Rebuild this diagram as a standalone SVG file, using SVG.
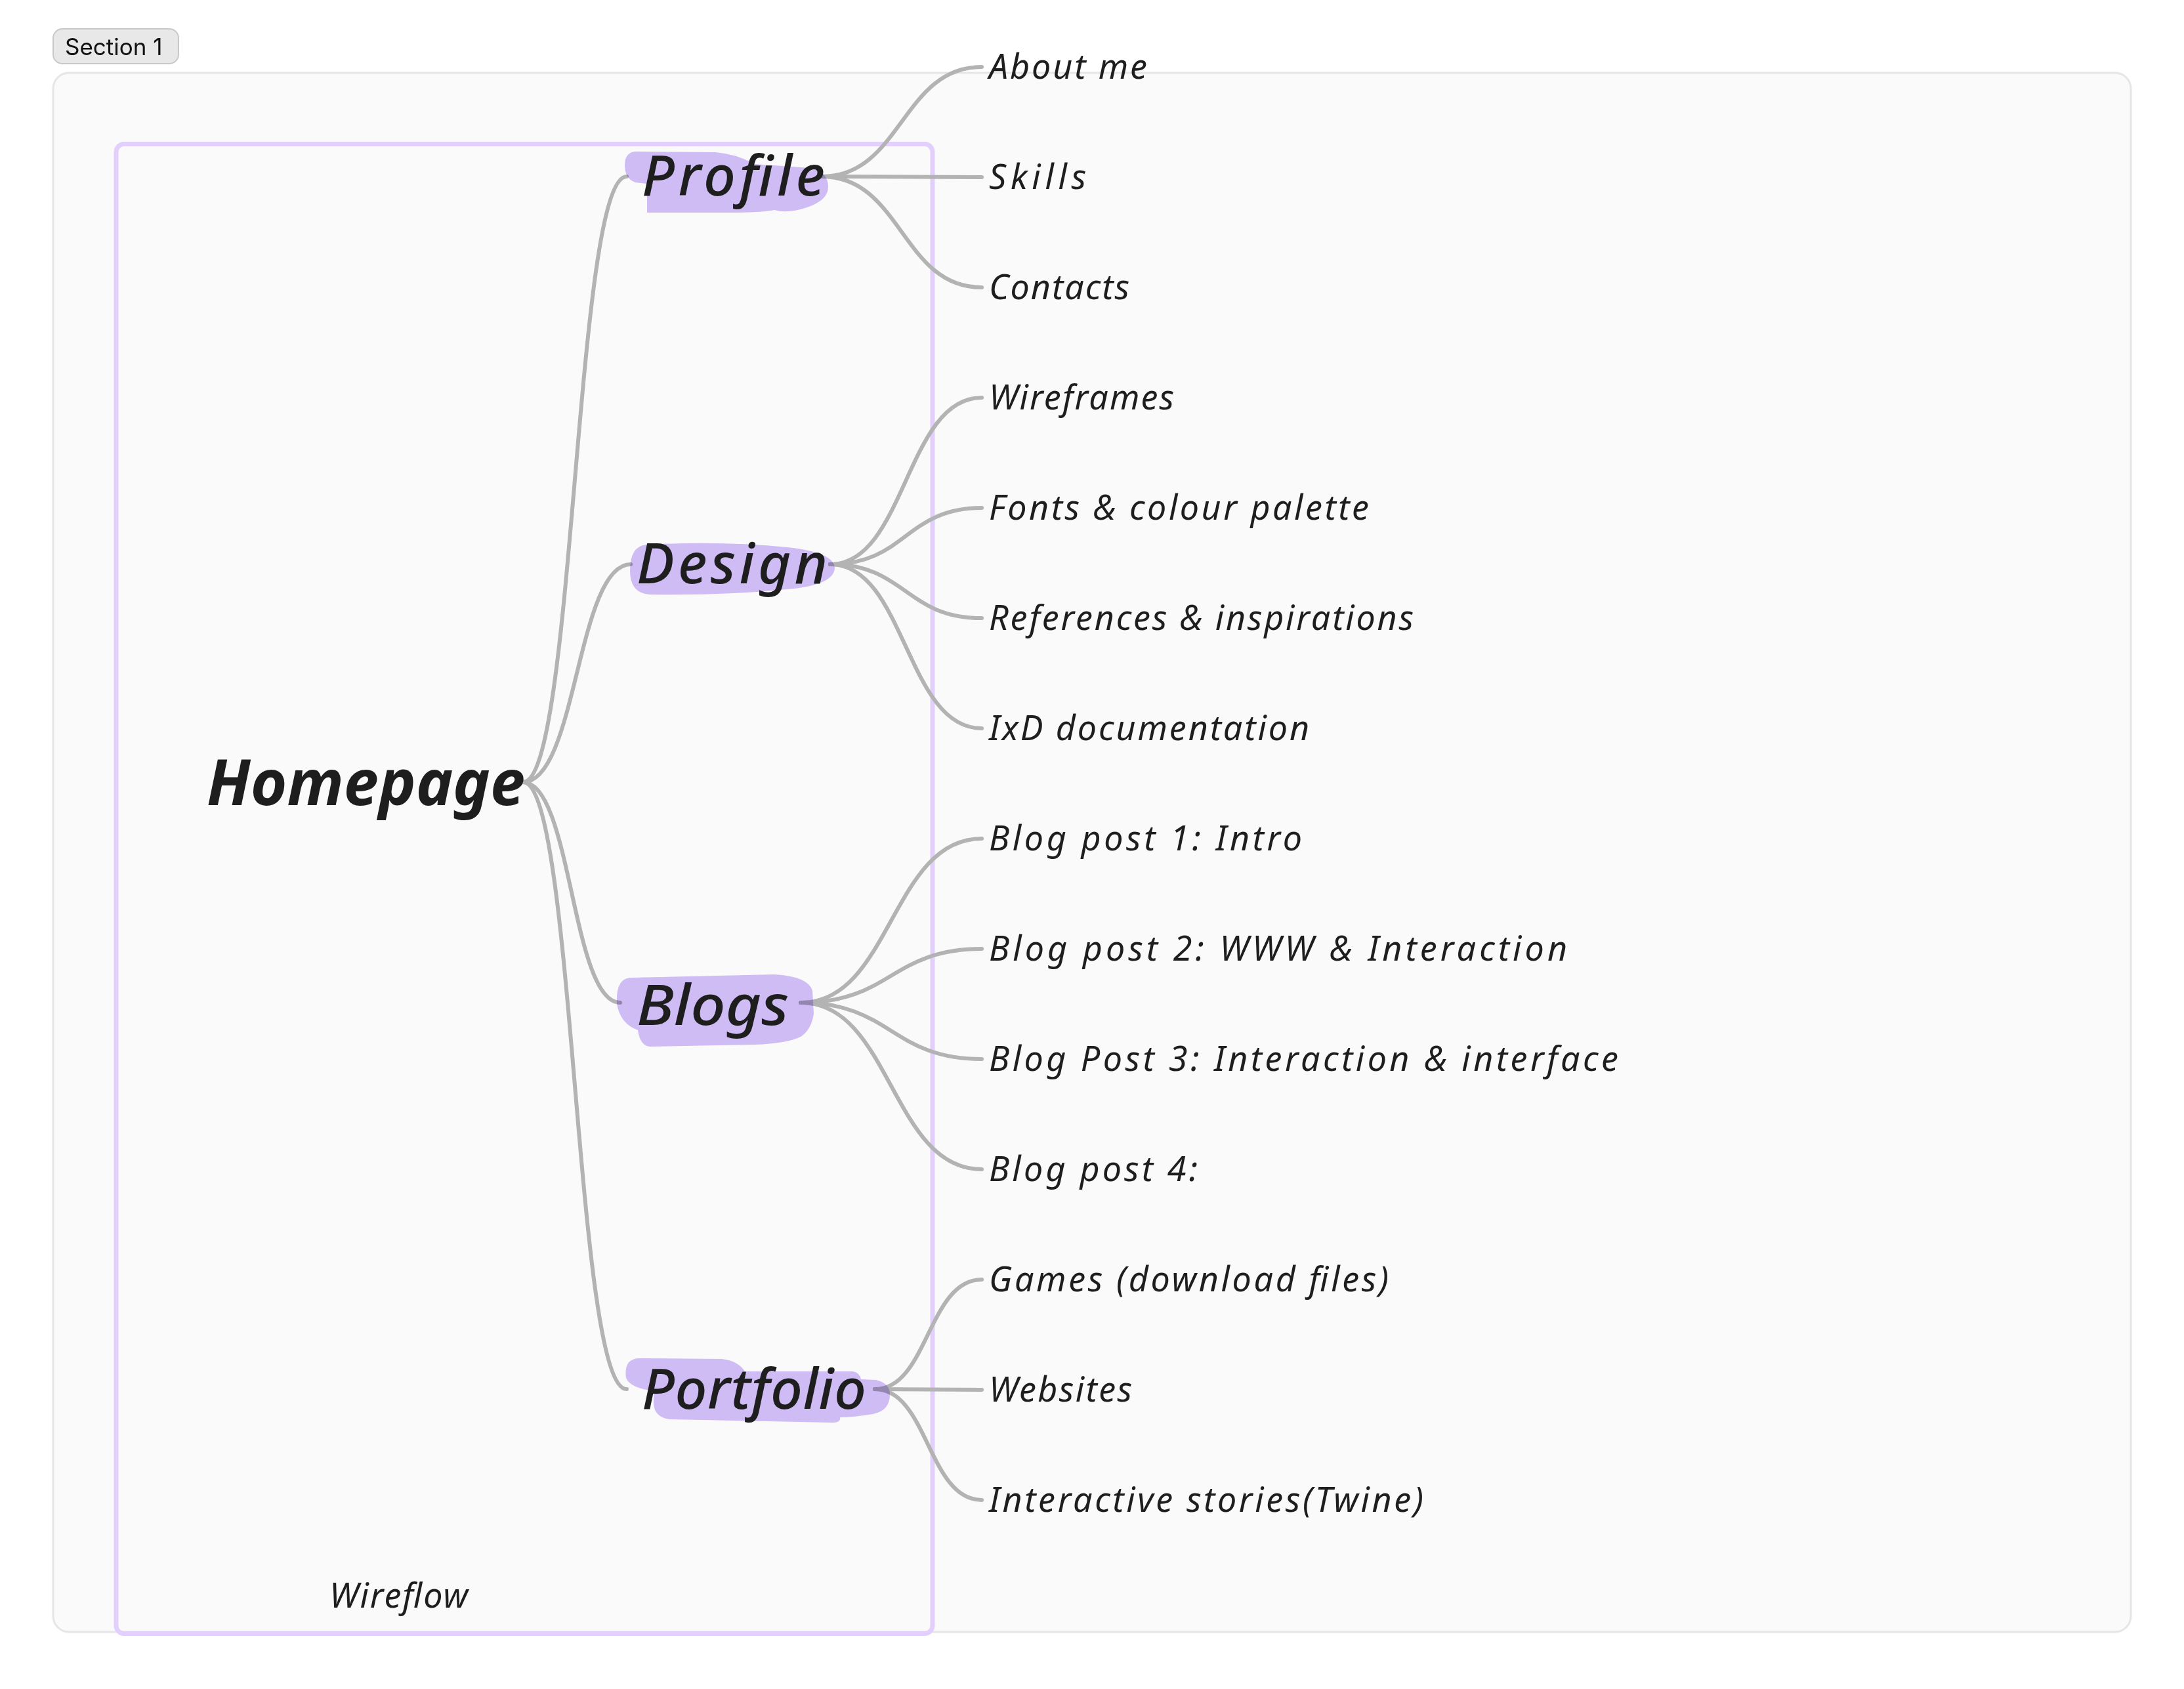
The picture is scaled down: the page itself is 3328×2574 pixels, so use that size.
<svg xmlns="http://www.w3.org/2000/svg" width="3328" height="2574" viewBox="0 0 3328 2574">
<defs>
<style>
.bg{fill:#ffffff}
.container{fill:#fafafa;stroke:#e6e6e6;stroke-width:3}
.seclabel{fill:#e8e8e8;stroke:#c8c8c8;stroke-width:2}
.seclabeltext{font-family:"Inter","Liberation Sans",sans-serif;font-size:35px;fill:#111111}
.frame{fill:none;stroke:#e3cffc;stroke-width:7}
.conn{fill:none;stroke:#b3b3b3;stroke-width:6;stroke-linecap:round}
.hl{fill:#d3c0fa;mix-blend-mode:multiply}
.hand{font-family:"Noto Sans","DejaVu Sans",sans-serif;font-style:italic;fill:#1e1e1e}
.child{font-size:52px}
.sect{font-size:86px;font-weight:500}
.root{font-size:96px;font-weight:700}
</style>
</defs>
<rect class="bg" x="0" y="0" width="3328" height="2574"/>

<g id="section-1">
<rect class="container" x="81" y="111" width="3166" height="2376" rx="24"/>
<rect class="seclabel" x="81" y="44" width="191" height="53" rx="14"/>
<text class="seclabeltext" x="99" y="84">Section 1</text>
</g>

<g id="wireflow-frame">
<rect class="frame" x="177" y="219.5" width="1244" height="2270" rx="12"/>
<text class="hand child" x="502" y="2450" textLength="211" lengthAdjust="spacing">Wireflow</text>
</g>

<g id="connectors">
<path class="conn" d="M797 1192 C876 1192 876 269 955 269"/>
<path class="conn" d="M797 1192 C879 1192 879 860 961 860"/>
<path class="conn" d="M797 1192 C871 1192 871 1528 945 1528"/>
<path class="conn" d="M797 1192 C876 1192 876 2117 955 2117"/>

<path class="conn" d="M1252 269 C1374 269 1374 102 1496 102"/>
<path class="conn" d="M1252 269 L1496 270"/>
<path class="conn" d="M1252 269 C1374 269 1374 438 1496 438"/>

<path class="conn" d="M1265 860 C1380 860 1380 606 1496 606"/>
<path class="conn" d="M1265 860 C1380 860 1380 774 1496 774"/>
<path class="conn" d="M1265 860 C1380 860 1380 942 1496 942"/>
<path class="conn" d="M1265 860 C1380 860 1380 1110 1496 1110"/>

<path class="conn" d="M1220 1528 C1358 1528 1358 1278 1496 1278"/>
<path class="conn" d="M1220 1528 C1358 1528 1358 1446 1496 1446"/>
<path class="conn" d="M1220 1528 C1358 1528 1358 1614 1496 1614"/>
<path class="conn" d="M1220 1528 C1358 1528 1358 1782 1496 1782"/>

<path class="conn" d="M1333 2117 C1414 2117 1414 1950 1496 1950"/>
<path class="conn" d="M1333 2117 L1496 2118"/>
<path class="conn" d="M1333 2117 C1414 2117 1414 2286 1496 2286"/>
</g>

<g id="homepage">
<text class="hand root" x="315" y="1227" textLength="485" lengthAdjust="spacingAndGlyphs">Homepage</text>
</g>

<g id="profile">
<path class="hl" d="M970 231 L1090 232 Q1120 234 1150 250 L1235 256 Q1262 262 1262 285 Q1262 305 1230 316 Q1200 326 1180 320 Q1160 324 1110 324 L986 324 L986 280 L968 278 Q952 272 952 252 Q952 231 970 231 Z"/>
<text class="hand sect" x="978" y="298" textLength="279" lengthAdjust="spacing">Profile</text>
</g>

<g id="design">
<path class="hl" d="M985 830 Q1100 824 1200 834 Q1272 842 1272 866 Q1270 892 1200 898 Q1100 908 990 906 Q960 904 960 870 Q960 832 985 830 Z"/>
<text class="hand sect" x="970" y="889" textLength="291" lengthAdjust="spacing">Design</text>
</g>

<g id="blogs">
<path class="hl" d="M960 1490 L1180 1485 Q1232 1488 1238 1510 L1240 1545 Q1236 1570 1220 1580 Q1200 1590 1150 1592 L990 1595 Q975 1593 972 1570 Q945 1560 940 1530 Q938 1492 960 1490 Z"/>
<text class="hand sect" x="970" y="1562" textLength="232" lengthAdjust="spacingAndGlyphs">Blogs</text>
</g>

<g id="portfolio">
<path class="hl" d="M975 2070 L1100 2071 Q1125 2074 1135 2090 L1300 2090 Q1310 2092 1312 2102 L1335 2103 Q1356 2108 1356 2125 Q1356 2150 1330 2155 Q1300 2160 1280 2160 Q1282 2168 1268 2168 L1020 2163 Q998 2160 996 2140 L996 2120 Q960 2115 954 2100 Q950 2070 975 2070 Z"/>
<text class="hand sect" x="978" y="2147" textLength="342" lengthAdjust="spacing">Portfolio</text>
</g>

<g id="about-me"><text class="hand child" x="1507" y="120" textLength="241" lengthAdjust="spacing">About me</text></g>
<g id="skills"><text class="hand child" x="1507" y="288" textLength="148" lengthAdjust="spacing">Skills</text></g>
<g id="contacts"><text class="hand child" x="1507" y="456" textLength="214" lengthAdjust="spacing">Contacts</text></g>
<g id="wireframes"><text class="hand child" x="1507" y="624" textLength="282" lengthAdjust="spacing">Wireframes</text></g>
<g id="fonts"><text class="hand child" x="1507" y="792" textLength="579" lengthAdjust="spacing">Fonts &amp; colour palette</text></g>
<g id="references"><text class="hand child" x="1507" y="960" textLength="647" lengthAdjust="spacing">References &amp; inspirations</text></g>
<g id="ixd"><text class="hand child" x="1507" y="1128" textLength="488" lengthAdjust="spacing">IxD documentation</text></g>
<g id="blog-1"><text class="hand child" x="1507" y="1296" textLength="477" lengthAdjust="spacing">Blog post 1: Intro</text></g>
<g id="blog-2"><text class="hand child" x="1507" y="1464" textLength="881" lengthAdjust="spacing">Blog post 2: WWW &amp; Interaction</text></g>
<g id="blog-3"><text class="hand child" x="1507" y="1632" textLength="959" lengthAdjust="spacing">Blog Post 3: Interaction &amp; interface</text></g>
<g id="blog-4"><text class="hand child" x="1507" y="1800" textLength="318" lengthAdjust="spacing">Blog post 4:</text></g>
<g id="games"><text class="hand child" x="1507" y="1968" textLength="609" lengthAdjust="spacing">Games (download files)</text></g>
<g id="websites"><text class="hand child" x="1507" y="2136" textLength="218" lengthAdjust="spacing">Websites</text></g>
<g id="interactive"><text class="hand child" x="1507" y="2304" textLength="662" lengthAdjust="spacing">Interactive stories(Twine)</text></g>
</svg>
